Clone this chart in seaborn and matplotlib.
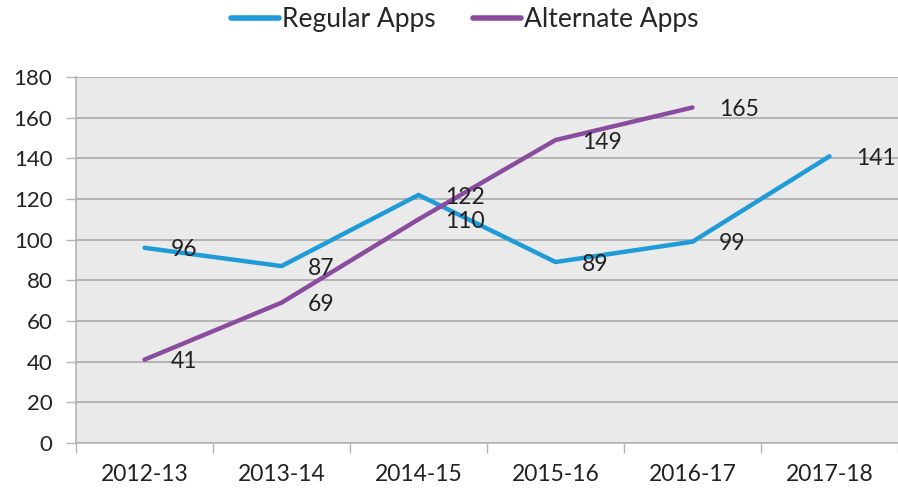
import matplotlib
matplotlib.use("Agg")
import matplotlib.pyplot as plt
import seaborn as sns
import numpy as np

# Data
years = ["2012-13", "2013-14", "2014-15", "2015-16", "2016-17", "2017-18"]
regular_apps = [96, 87, 122, 89, 99, 141]
alternate_apps = [41, 69, 110, 149, 165]
y_ticks = list(range(0, 181, 20))

blue = "#1f9bd8"
purple = "#8a4c9e"
grid_col = "#b3b3b3"
text_col = "#222222"

sns.set_style("white")
plt.rcParams["font.family"] = ["Lato", "DejaVu Sans"]

fig = plt.figure(figsize=(8.98, 4.91), dpi=100)
ax = fig.add_axes([76 / 898, 1 - 443 / 491, 1 - 76 / 898, (443 - 77) / 491])
ax.set_facecolor("#eaeaea")

sns.lineplot(x=years, y=regular_apps, color=blue, linewidth=3.2, ax=ax,
             label="Regular Apps", solid_capstyle="round")
sns.lineplot(x=years[:len(alternate_apps)], y=alternate_apps, color=purple,
             linewidth=3.2, ax=ax, label="Alternate Apps", solid_capstyle="round")

# data labels to the right of each point
for vals in (regular_apps, alternate_apps):
    for i, v in enumerate(vals):
        ax.annotate(str(v), (i, v), xytext=(19, -1.5), textcoords="offset points",
                    ha="left", va="center", fontsize=16.5, color=text_col)

ax.set_ylim(0, 180)
ax.set_yticks(y_ticks)
ax.set_xlim(-0.5, 5.5 - 3 / 137.5)
ax.set_xticks(range(len(years)))
ax.set_xticks(np.arange(-0.5, 5.6, 1), minor=True)
ax.grid(axis="y", color=grid_col, linewidth=1.4)
ax.grid(axis="x", visible=False)
ax.set_axisbelow(True)

ax.tick_params(axis="y", which="major", length=7, width=1, color=grid_col,
               labelsize=16, labelcolor=text_col, pad=10, left=True)
ax.tick_params(axis="x", which="major", length=0, labelsize=16.5,
               labelcolor=text_col, pad=15)
ax.tick_params(axis="x", which="minor", length=7, width=1, color=grid_col,
               bottom=True)

for side in ("top", "right"):
    ax.spines[side].set_visible(False)
for side in ("left", "bottom"):
    ax.spines[side].set_color(grid_col)
    ax.spines[side].set_linewidth(1.2)

ax.set_xlabel("")
ax.set_ylabel("")
handles, labels = ax.get_legend_handles_labels()
ax.legend_.remove()
leg = fig.legend(handles, labels, loc="center", bbox_to_anchor=(465 / 898, 1 - 20 / 491),
                 ncol=2, frameon=False, fontsize=19, handlelength=1.8,
                 handletextpad=0.15, columnspacing=1.4)
for line in leg.get_lines():
    line.set_linewidth(4)
    line.set_solid_capstyle("round")

fig.savefig("out.png", dpi=100)
